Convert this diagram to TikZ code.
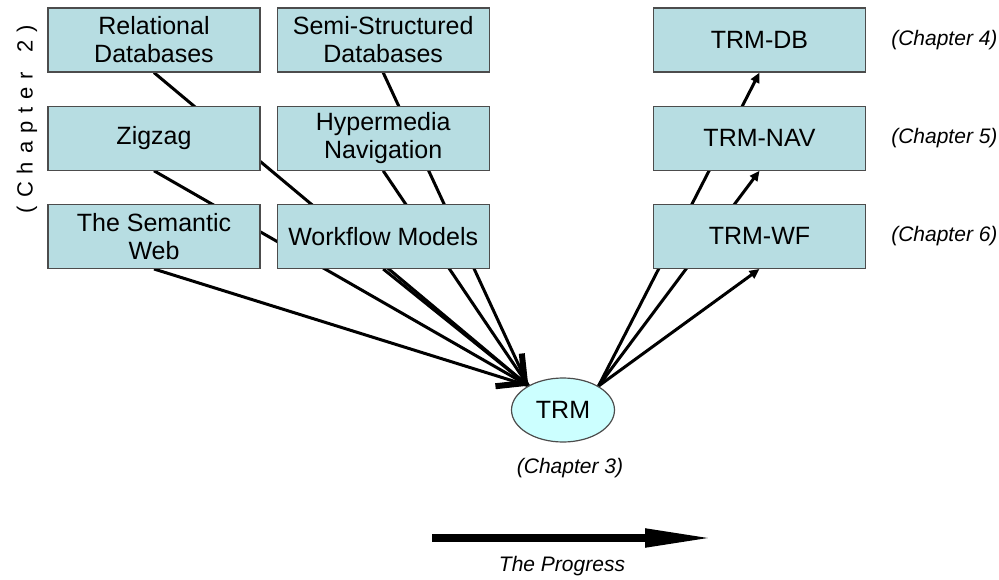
\documentclass[tikz,border=0pt]{standalone}
\usepackage{fontspec}
\setmainfont{Liberation Sans}
\usepackage{tikz}
\usetikzlibrary{positioning, arrows.meta, shapes.geometric}
\definecolor{cajafill}{RGB}{183,221,226}
\definecolor{trmfill}{RGB}{204,255,255}
\pgfdeclarelayer{atras}
\pgfsetlayers{atras,main}
\newcommand{\lgap}{\hspace{0.36em}}

\begin{document}
\begin{tikzpicture}[x=1pt, y=-1pt,
  caja/.style={draw=black!70, line width=1.2pt, fill=cajafill, align=center,
               minimum width=212pt, minimum height=64pt, inner sep=0pt,
               font=\fontsize{25}{28}\selectfont},
  capit/.style={font=\fontsize{21}{24}\selectfont\itshape, inner sep=0pt},
  fl/.style={line width=3pt, black},
  node distance=33pt and 16pt]
\useasboundingbox (0,0) rectangle (999,580);
% sources (chapter 2)
\node[caja] (reldb) at (154,40) {Relational\\Databases};
\node[caja, right=of reldb] (semidb) {Semi-Structured\\Databases};
\node[caja, below=of reldb] (zigzag) {Zigzag};
\node[caja, below=of semidb] (hyper) {Hypermedia\\Navigation};
\node[caja, below=of zigzag] (semweb) {The Semantic\\Web};
\node[caja, below=of hyper] (wflow) {Workflow Models};
\node[font=\fontsize{22}{24}\selectfont, inner sep=0pt, rotate=90] (ch2) at (27,119)
  {(\lgap C\lgap h\lgap a\lgap p\lgap t\lgap e\lgap r\hspace{0.9em}2\lgap )};
% TRM
\node[ellipse, draw=black!70, line width=1.2pt, fill=trmfill, inner sep=0pt,
      minimum width=103pt, minimum height=64pt,
      font=\fontsize{25}{28}\selectfont] (trm) at (563,410) {TRM};
\node[capit] (ch3) at (570,468) {(Chapter 3)};
% extensions
\node[caja] (tdb) at (759.5,40) {TRM-DB};
\node[caja, below=of tdb] (tnav) {TRM-NAV};
\node[caja, below=of tnav] (twf) {TRM-WF};
\node[capit, right=25pt of tdb] (ch4) {(Chapter 4)};
\node[capit, right=25pt of tnav] (ch5) {(Chapter 5)};
\node[capit, right=25pt of twf] (ch6) {(Chapter 6)};
% connectors behind the boxes
\begin{pgfonlayer}{atras}
\foreach \n in {reldb, zigzag, semweb, semidb, hyper}
  \draw[fl] (\n.south) -- (trm.145);
\draw[fl, -{Straight Barb[length=21pt, width=42pt, line width=6pt]}]
  (wflow.south) -- (trm.145);
\foreach \n in {tdb, tnav, twf}
  \draw[fl, -{Triangle[length=10pt, width=9pt]}] (trm.34) -- (\n.south);
\end{pgfonlayer}
% progress
\coordinate (p0) at (432,538);
\coordinate (p1) at (715,538);
\draw[line width=8pt, -{Triangle[length=70pt, width=17pt]}] (p0) -- (p1);
\node[capit] (prog) at (562,566) {The Progress};
\end{tikzpicture}
\end{document}
